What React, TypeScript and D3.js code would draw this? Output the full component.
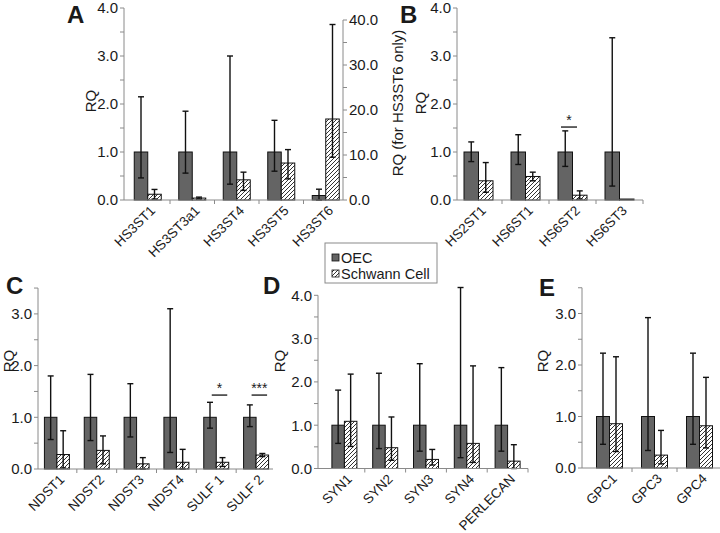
import React from "react";
import * as d3 from "d3";

// ---------- DATA ----------
const catsA = ["HS3ST1", "HS3ST3a1", "HS3ST4", "HS3ST5", "HS3ST6"];
const oecA = [1, 1, 1, 1, 1];
const oecHiA = [2.15, 1.85, 3.0, 1.66, 2.4];
const oecLoA = [0.46, 0.56, 0.33, 0.6, 0];
const scA = [0.12, 0.04, 0.42, 0.77, 18];
const scHiA = [0.22, 0.06, 0.58, 1.05, 39];
const scLoA = [0.02, 0.02, 0.2, 0.44, 9.5];
const rightAxisCatsA = ["HS3ST6"]; // plotted on the right axis

const catsB = ["HS2ST1", "HS6ST1", "HS6ST2", "HS6ST3"];
const oecB = [1, 1, 1, 1];
const oecHiB = [1.21, 1.36, 1.44, 3.38];
const oecLoB = [0.8, 0.74, 0.7, 0.29];
const scB = [0.4, 0.49, 0.1, 0.02];
const scHiB = [0.78, 0.58, 0.19, null];
const scLoB = [0.16, 0.4, 0.02, null];

const catsC = ["NDST1", "NDST2", "NDST3", "NDST4", "SULF 1", "SULF 2"];
const oecC = [1, 1, 1, 1, 1, 1];
const oecHiC = [1.8, 1.83, 1.65, 3.1, 1.29, 1.24];
const oecLoC = [0.57, 0.55, 0.62, 0.32, 0.79, 0.82];
const scC = [0.28, 0.36, 0.1, 0.13, 0.13, 0.27];
const scHiC = [0.74, 0.64, 0.22, 0.38, 0.22, 0.3];
const scLoC = [0.02, 0.1, 0, 0, 0.05, 0.24];

const catsD = ["SYN1", "SYN2", "SYN3", "SYN4", "PERLECAN"];
const oecD = [1, 1, 1, 1, 1];
const oecHiD = [1.81, 2.2, 2.42, 4.18, 2.33];
const oecLoD = [0.58, 0.46, 0.4, 0.25, 0.4];
const scD = [1.09, 0.48, 0.21, 0.58, 0.17];
const scHiD = [2.18, 1.19, 0.44, 2.37, 0.55];
const scLoD = [0.51, 0.19, 0.08, 0.14, 0];

const catsE = ["GPC1", "GPC3", "GPC4"];
const oecE = [1, 1, 1];
const oecHiE = [2.23, 2.92, 2.23];
const oecLoE = [0.46, 0.34, 0.46];
const scE = [0.86, 0.25, 0.82];
const scHiE = [2.16, 0.73, 1.76];
const scLoE = [0.32, 0.08, 0.39];

const sigB = [{ cat: "HS6ST2", y: 1.52, label: "*" }];
const sigC = [
  { cat: "SULF 1", y: 1.43, label: "*" },
  { cat: "SULF 2", y: 1.43, label: "***" },
];

const legendLabels = ["OEC", "Schwann Cell"];
const rightTicksA = [0, 10, 20, 30, 40];

// ---------- STYLE ----------
const FONT = "'Liberation Sans', Arial, sans-serif";
const TEXT = "#1a1a1a";
const AXIS = "#8a8a8a";
const OEC_FILL = "#646464";
const ERR = "#111";

type PanelProps = {
  letter: string;
  letterX: number;
  letterY: number;
  cats: string[];
  oec: number[];
  oecHi: (number | null)[];
  oecLo: (number | null)[];
  sc: number[];
  scHi: (number | null)[];
  scLo: (number | null)[];
  axisX: number;
  axisEnd: number;
  xRange: [number, number];
  y0: number;
  ppu: number;
  yMax: number;
  barW: number;
  rqX: number;
  rqY: number;
  rightCats?: string[];
  rightScale?: d3.ScaleLinear<number, number>;
  sig?: { cat: string; y: number; label: string }[];
  sigOff?: [number, number];
};

function Panel(p: PanelProps) {
  const y = d3.scaleLinear().domain([0, p.yMax]).range([p.y0, p.y0 - p.yMax * p.ppu]);
  const x = d3.scaleBand<string>().domain(p.cats).range(p.xRange).padding(0);
  const bw = x.bandwidth();
  const major = d3.range(0, p.yMax + 0.001, 1);
  const minor = d3.range(0, p.yMax + 0.001, 0.5);
  const ys = (c: string) => (p.rightCats && p.rightCats.includes(c) && p.rightScale ? p.rightScale : y);
  const cap = 3;

  const errBar = (cx: number, hi: number | null, lo: number | null, sc: d3.ScaleLinear<number, number>, key: string) => {
    if (hi == null || lo == null) return null;
    return (
      <g key={key} stroke={ERR} strokeWidth={1.4}>
        <line x1={cx} x2={cx} y1={sc(hi)} y2={sc(lo)} />
        <line x1={cx - cap} x2={cx + cap} y1={sc(hi)} y2={sc(hi)} />
        <line x1={cx - cap} x2={cx + cap} y1={sc(lo)} y2={sc(lo)} />
      </g>
    );
  };

  return (
    <g>
      <text x={p.letterX} y={p.letterY} fontFamily={FONT} fontWeight="bold" fontSize={24} fill={TEXT}>
        {p.letter}
      </text>
      {/* y axis */}
      <line x1={p.axisX} x2={p.axisX} y1={p.y0} y2={y(p.yMax)} stroke={AXIS} strokeWidth={1} />
      {minor.map((v) => (
        <line key={"m" + v} x1={p.axisX - 4} x2={p.axisX} y1={y(v)} y2={y(v)} stroke={AXIS} />
      ))}
      {major.map((v) => (
        <text key={"l" + v} x={p.axisX - 6} y={y(v)} dy="0.36em" textAnchor="end" fontFamily={FONT} fontSize={15} fill={TEXT}>
          {d3.format(".1f")(v)}
        </text>
      ))}
      <text
        transform={`translate(${p.rqX},${p.rqY}) rotate(-90)`}
        textAnchor="middle"
        dy="0.35em"
        fontFamily={FONT}
        fontSize={15}
        fill={TEXT}
      >
        RQ
      </text>
      {/* bars */}
      {p.cats.map((c, i) => {
        const cx = (x(c) as number) + bw / 2;
        const sc = ys(c);
        return (
          <g key={c}>
            <rect x={cx - p.barW} y={sc(p.oec[i])} width={p.barW} height={sc(0) - sc(p.oec[i])} fill={OEC_FILL} stroke="#111" strokeWidth={1} />
            <rect x={cx} y={sc(p.sc[i])} width={p.barW} height={sc(0) - sc(p.sc[i])} fill="url(#hatch)" stroke="#111" strokeWidth={1} />
            {errBar(cx - p.barW / 2, p.oecHi[i], p.oecLo[i], sc, "eo" + i)}
            {errBar(cx + p.barW / 2, p.scHi[i], p.scLo[i], sc, "es" + i)}
          </g>
        );
      })}
      {/* x axis */}
      <line x1={p.axisX} x2={p.axisEnd} y1={p.y0} y2={p.y0} stroke={AXIS} strokeWidth={1} />
      {p.cats.map((c, i) => {
        const bx = (x(c) as number) + bw;
        if (bx > p.axisEnd + 1) return null;
        return <line key={"t" + i} x1={bx} x2={bx} y1={p.y0} y2={p.y0 + 4} stroke={AXIS} />;
      })}
      {p.cats.map((c) => {
        const cx = (x(c) as number) + bw / 2;
        return (
          <text
            key={"xl" + c}
            transform={`translate(${cx + 5},${p.y0 + 8}) rotate(-45)`}
            textAnchor="end"
            dy="0.35em"
            fontFamily={FONT}
            fontSize={13.5}
            fill={TEXT}
          >
            {c}
          </text>
        );
      })}
      {/* significance */}
      {(p.sig || []).map((s) => {
        const cx = (x(s.cat) as number) + bw / 2;
        const off = p.sigOff || [-10, 5];
        const x1 = cx + off[0];
        const x2 = cx + off[1];
        return (
          <g key={"s" + s.cat}>
            <line x1={x1} x2={x2} y1={y(s.y)} y2={y(s.y)} stroke={ERR} strokeWidth={1.3} />
            <text x={(x1 + x2) / 2} y={y(s.y) - 2} textAnchor="middle" fontFamily={FONT} fontSize={14} fill={TEXT}>
              {s.label}
            </text>
          </g>
        );
      })}
    </g>
  );
}

export default function App() {
  const rightA = d3.scaleLinear().domain([0, 40]).range([200, 20]);
  const rightMinor = d3.range(0, 40.001, 5);
  return (
    <svg width={720} height={533} style={{ position: "absolute", left: 0, top: 0, background: "#fff" }}>
      <defs>
        <pattern id="hatch" patternUnits="userSpaceOnUse" width={4} height={4}>
          <rect width={4} height={4} fill="#fff" />
          <path d="M-1,1 l2,-2 M0,4 l4,-4 M3,5 l2,-2" stroke="#333" strokeWidth={1} />
        </pattern>
      </defs>
      <rect width={720} height={533} fill="#fff" />

      <Panel
        letter="A" letterX={67} letterY={23}
        cats={catsA} oec={oecA} oecHi={oecHiA} oecLo={oecLoA} sc={scA} scHi={scHiA} scLo={scLoA}
        axisX={124} axisEnd={343} xRange={[125.5, 348]} y0={200} ppu={48} yMax={4} barW={13.5}
        rqX={91} rqY={101} rightCats={rightAxisCatsA} rightScale={rightA}
      />
      {/* right axis of A */}
      <line x1={343} x2={343} y1={200} y2={20} stroke={AXIS} />
      {rightMinor.map((v) => (
        <line key={"rm" + v} x1={343} x2={347} y1={rightA(v)} y2={rightA(v)} stroke={AXIS} />
      ))}
      {rightTicksA.map((v) => (
        <text key={"rl" + v} x={349} y={rightA(v)} dy="0.36em" fontFamily={FONT} fontSize={15} fill={TEXT}>
          {d3.format(".1f")(v)}
        </text>
      ))}
      <text transform="translate(398,103) rotate(-90)" textAnchor="middle" dy="0.35em" fontFamily={FONT} fontSize={15} fill={TEXT}>
        RQ (for HS3ST6 only)
      </text>

      <Panel
        letter="B" letterX={400} letterY={23}
        cats={catsB} oec={oecB} oecHi={oecHiB} oecLo={oecLoB} sc={scB} scHi={scHiB} scLo={scLoB}
        axisX={457} axisEnd={643} xRange={[455, 643]} y0={200} ppu={48} yMax={4} barW={14.5}
        rqX={421} rqY={103} sig={sigB} sigOff={[-11.5, 4.5]}
      />

      <Panel
        letter="C" letterX={6} letterY={294}
        cats={catsC} oec={oecC} oecHi={oecHiC} oecLo={oecLoC} sc={scC} scHi={scHiC} scLo={scLoC}
        axisX={38} axisEnd={273} xRange={[37, 276]} y0={469} ppu={51.7} yMax={3.5} barW={12.5}
        rqX={9} rqY={361} sig={sigC} sigOff={[-4.5, 11]}
      />

      <Panel
        letter="D" letterX={263} letterY={294}
        cats={catsD} oec={oecD} oecHi={oecHiD} oecLo={oecLoD} sc={scD} scHi={scHiD} scLo={scLoD}
        axisX={318} axisEnd={528} xRange={[324, 528]} y0={468.5} ppu={43.3} yMax={4} barW={12.5}
        rqX={280} rqY={361}
      />

      <Panel
        letter="E" letterX={539} letterY={296}
        cats={catsE} oec={oecE} oecHi={oecHiE} oecLo={oecLoE} sc={scE} scHi={scHiE} scLo={scLoE}
        axisX={582} axisEnd={720} xRange={[587, 722]} y0={468} ppu={51.5} yMax={3.5} barW={13}
        rqX={543} rqY={361}
      />

      {/* legend */}
      <rect x={325} y={243} width={112} height={40} fill="#fff" stroke={AXIS} strokeWidth={1} />
      {legendLabels.map((l, i) => (
        <g key={l}>
          <rect
            x={332} y={254 + i * 16} width={7} height={7}
            fill={i === 0 ? OEC_FILL : "url(#hatch)"} stroke="#111" strokeWidth={0.8}
          />
          <text x={341} y={258 + i * 16} dy="0.36em" fontFamily={FONT} fontSize={14.5} fill={TEXT}>
            {l}
          </text>
        </g>
      ))}
    </svg>
  );
}
